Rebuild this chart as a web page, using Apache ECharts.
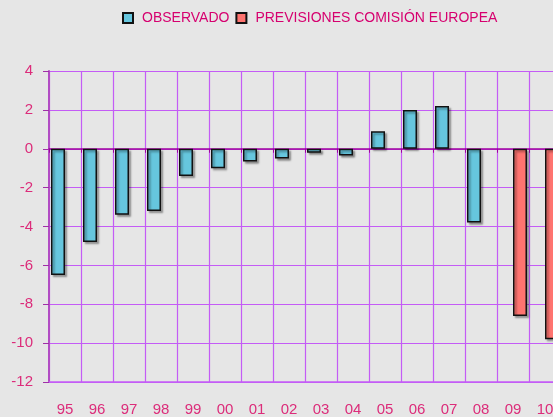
<!DOCTYPE html>
<html>
	<head>
		<meta charset="UTF-8">
		<title>Observado vs previsiones</title>
		<style>
			html, body { margin: 0; padding: 0; background: #e6e6e6; }
			#chart { width: 553px; height: 417px; }
		</style>
	</head>
	<body>
		<div id="chart"></div>
	</body>
	<script src="https://cdn.jsdelivr.net/npm/echarts@6/dist/echarts.min.js" type="text/javascript" charset="utf-8"></script>
	<script type="text/javascript">
		// categorias (años) y valores
		var years = ['95', '96', '97', '98', '99', '00', '01', '02', '03', '04', '05', '06', '07', '08', '09', '10'];
		var observado = [-6.5, -4.8, -3.4, -3.2, -1.4, -1.0, -0.65, -0.5, -0.2, -0.35, 0.9, 2.0, 2.2, -3.8, null, null];
		var previsiones = [null, null, null, null, null, null, null, null, null, null, null, null, null, null, -8.6, -9.8];
		var yTicks = [-12, -10, -8, -6, -4, -2, 0, 2, 4];

		var labelColor = '#dc2c7a';
		var gridColor = '#c45cf6';

		var chart = echarts.init(document.getElementById('chart'));

		var barStyle = function (color) {
			return {
				color: color,
				borderColor: '#111',
				borderWidth: 1.5,
				shadowColor: 'rgba(0,0,0,0.35)',
				shadowBlur: 2,
				shadowOffsetX: 2,
				shadowOffsetY: 2
			};
		};

		var option = {
			backgroundColor: '#e6e6e6',
			animation: false,
			legend: {
				left: 122,
				top: 11,
				padding: 0,
				icon: 'rect',
				itemWidth: 10,
				itemHeight: 10,
				itemGap: 6,
				textStyle: {
					color: '#d6006f',
					fontFamily: 'Liberation Sans',
					fontSize: 14,
					padding: [0, 0, 0, 4]
				},
				data: ['OBSERVADO', 'PREVISIONES COMISIÓN EUROPEA']
			},
			// 16 categorias de 32px, la ultima cortada por el borde
			grid: {
				left: 49,
				top: 71,
				width: 512,
				height: 311,
				containLabel: false,
				outerBoundsMode: 'none'
			},
			xAxis: [{
				type: 'category',
				data: years,
				position: 'bottom',
				axisLine: { onZero: false, lineStyle: { color: gridColor, width: 1.5 } },
				axisTick: { show: false },
				axisLabel: {
					color: labelColor,
					fontFamily: 'Liberation Sans',
					fontSize: 15,
					margin: 20
				},
				splitLine: { show: true, lineStyle: { color: gridColor, width: 1.2 } }
			}, {
				// linea del cero
				type: 'category',
				data: years,
				position: 'top',
				axisLine: { onZero: true, lineStyle: { color: '#a000a0', width: 1.5 } },
				axisTick: { show: true, inside: true, length: 4, lineStyle: { color: '#a000a0' } },
				axisLabel: { show: false },
				splitLine: { show: false }
			}],
			yAxis: {
				type: 'value',
				min: yTicks[0],
				max: yTicks[yTicks.length - 1],
				interval: 2,
				axisLine: { show: true, lineStyle: { color: '#b24cc4', width: 2 } },
				axisTick: { show: true, length: 6, lineStyle: { color: '#a030a8' } },
				axisLabel: {
					color: labelColor,
					fontFamily: 'Liberation Sans',
					fontSize: 15,
					margin: 16
				},
				splitLine: { show: true, lineStyle: { color: gridColor, width: 1.2 } }
			},
			series: [{
				name: 'OBSERVADO',
				type: 'bar',
				xAxisIndex: 0,
				barWidth: 14,
				barGap: '0%',
				itemStyle: barStyle('#66c6de'),
				data: observado
			}, {
				name: 'PREVISIONES COMISIÓN EUROPEA',
				type: 'bar',
				xAxisIndex: 0,
				barWidth: 14,
				barGap: '0%',
				itemStyle: barStyle('#ff7470'),
				data: previsiones
			}]
		};

		chart.setOption(option);
	</script>
</html>
